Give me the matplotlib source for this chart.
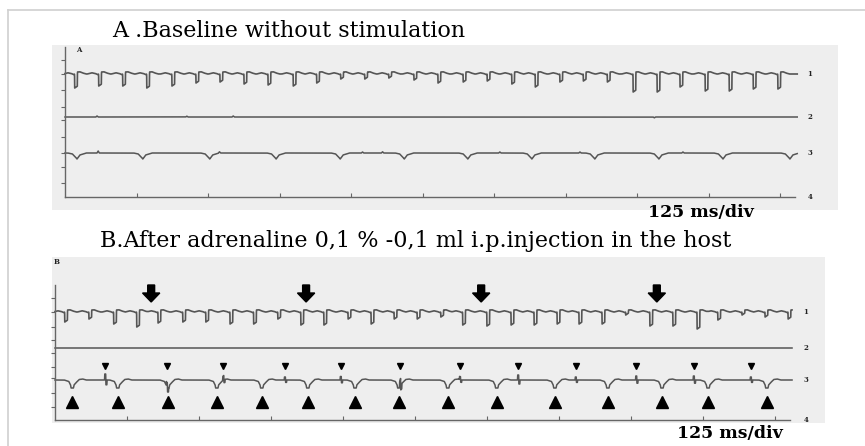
import numpy as np
import matplotlib
matplotlib.use("Agg")
import matplotlib.pyplot as plt
from matplotlib.lines import Line2D

# ---- data (times in ms, amplitudes in trace units) ----
A1_BEAT_T   = [17, 59, 101, 143, 187, 229, 271, 313, 355, 399, 440, 482, 524, 566, 610,
               652, 696, 738, 781, 822, 865, 906, 948, 993, 1035, 1075, 1119, 1161, 1203, 1246]
A1_BEAT_D   = [14, 12, 12, 14, 12, 9, 8, 10, 11, 12, 9, 5, 5, 4, 6,
               9, 8, 7, 10, 13, 8, 7, 8, 18, 18, 13, 17, 17, 15, 15]
A2_BLIP_T   = [56, 213, 294, 1030]
A2_BLIP_A   = [1.0, 0.8, 1.0, -0.8]
A3_DIP_T    = [21, 136, 253, 369, 481, 593, 704, 816, 926, 1038, 1150, 1267]
A3_BLIP_T   = [58, 270, 520, 555, 760, 900, 1080]
A3_BLIP_A   = [2.0, 1.2, 1.0, 1.2, 1.0, 1.0, 1.0]

B1_BEAT_T   = [17, 59, 102, 142, 179, 222, 262, 304, 345, 387, 427, 467, 509, 549, 589, 629,
               670, 708, 750, 792, 832, 872, 910, 950, 991, 1033, 1073, 1115, 1151, 1193, 1233, 1273]
B1_BEAT_D   = [10, 7, 12, 15, 11, 10, 10, 12, 12, 7, 13, 13, 7, 12, 7, 7,
               5, 13, 14, 13, 13, 12, 12, 12, 3, 14, 14, 17, 8, 3, 5, 7]
B_ARROW_T   = [167, 436, 740, 1045]
B3_DIP_T    = [30, 109, 196, 281, 359, 439, 521, 597, 682, 767, 868, 960, 1054, 1134, 1236]
B3_SPK_T    = [87, 194, 292, 399, 496, 599, 703, 804, 904, 1009, 1109, 1208]
B3_SPK_A    = [1.2, 1.0, 0.8, 0.6, 0.7, 1.3, 0.6, 1.0, 0.6, 0.8, 0.8, 0.6]

TICK_MS     = [125, 250, 375, 500, 625, 750, 875, 1000, 1125, 1250]
CH_LABELS   = ["1", "2", "3", "4"]

# beat shapes (offset ms, relative amplitude)
WAVE_T  = [-20, -12, -6, -2, 0, 5, 9, 14, 20]
WAVE_A  = [0, 1.2, 0.5, -0.5, 0, 2.0, 2.2, 1.0, 0]
SPIKE_T = [-0.3, 0, 4.5, 4.8]
SPIKE_A = [0, -1, -1, 0]
DIPA_T  = [-16, -8, -2, 0, 5, 16]
DIPA_A  = [0, -1, -4.5, -6, -2, 0]
DIPB_T  = [-14, -6, -3, -2, 2, 3, 6, 12, 18, 24]
DIPB_A  = [0, -1.5, -5, -8, -8, -5, -3, 0.5, 1.0, 0]
SPKB_T  = [-1, -0.6, 1.0, 1.4, 3.0, 3.4]
SPKB_A  = [0, 5, 5, -4, -4, 0]
BLIP_T  = [-2, 0, 2]
BLIP_A  = [0, 1, 0]

TRACE_COL = "#555555"
BOX_COL   = "#eeeeee"
SERIF     = ["DejaVu Serif"]


def build_trace(t, events):
    y = np.zeros_like(t)
    for times, amps, shp_t, shp_a in events:
        for te, a in zip(times, amps):
            y += a * np.interp(t - te, shp_t, shp_a, left=0, right=0)
    return y


def style_axes(ax, x_end, ch_y, top, yticks):
    ax.set_facecolor(BOX_COL)
    for s in ["top", "right"]:
        ax.spines[s].set_visible(False)
    ax.spines["left"].set_position(("data", 0))
    ax.spines["left"].set_bounds(ch_y[3], top)
    ax.spines["bottom"].set_position(("data", ch_y[3]))
    ax.spines["bottom"].set_bounds(0, x_end)
    for s in ["left", "bottom"]:
        ax.spines[s].set_color("#666666")
        ax.spines[s].set_linewidth(1.0)
    ax.set_xticks(TICK_MS)
    ax.set_yticks(yticks)
    ax.tick_params(axis="x", direction="in", length=3, color="#666666", labelbottom=False)
    ax.tick_params(axis="y", direction="out", length=3, color="#666666", labelleft=False)


fig = plt.figure(figsize=(8.65, 4.46), dpi=100)

# faint frame of the scanned page
fig.add_artist(Line2D([8/865, 1], [1 - 10/446, 1 - 10/446], color="#d0d0d0", lw=1.2))
fig.add_artist(Line2D([8/865, 8/865], [0, 1 - 10/446], color="#d0d0d0", lw=1.2))

# ---------------- panel A ----------------
axA = fig.add_axes([52/865, (446-210)/446, 786/865, 165/446])
chA = [0, -43, -79, -123]
axA.set_xlim(-22.7, 1351)
axA.set_ylim(-136, 29)
style_axes(axA, 1276, chA, 27, [14, 0, -16, -33, -46, -63, -79, -93, -109])

tA = np.arange(-5, 1280, 0.25)
y1 = build_trace(tA, [(A1_BEAT_T, [1]*len(A1_BEAT_T), WAVE_T, WAVE_A),
                      (A1_BEAT_T, A1_BEAT_D, SPIKE_T, SPIKE_A)])
y2 = build_trace(tA, [(A2_BLIP_T, A2_BLIP_A, BLIP_T, BLIP_A)])
y3 = build_trace(tA, [(A3_DIP_T, [1]*len(A3_DIP_T), DIPA_T, DIPA_A),
                      (A3_BLIP_T, A3_BLIP_A, BLIP_T, BLIP_A)])
m = tA >= 0
axA.plot(tA[m], y1[m] + chA[0], color=TRACE_COL, lw=1.2)
axA.plot(tA[m], y2[m] + chA[1], color=TRACE_COL, lw=1.1)
axA.plot(tA[m], y3[m] + chA[2], color=TRACE_COL, lw=1.1)
for lab, cy in zip(CH_LABELS, chA):
    axA.text(1302, cy, lab, fontsize=5, fontweight="bold", family=SERIF,
             ha="center", va="center", color="#222222")
axA.text(24, 24, "A", fontsize=5, fontweight="bold", family=SERIF,
         ha="center", va="center", color="#222222")

# ---------------- panel B ----------------
axB = fig.add_axes([52/865, (446-423)/446, 773/865, 166/446])
chB = [0, -36, -68, -108]
axB.set_xlim(-5.2, 1337)
axB.set_ylim(-111, 55)
style_axes(axB, 1276, chB, 27, [14, 0, -15, -28, -41, -55, -66, -81, -95])

tB = np.arange(-5, 1280, 0.25)
b1 = build_trace(tB, [(B1_BEAT_T, [1]*len(B1_BEAT_T), WAVE_T, WAVE_A),
                      (B1_BEAT_T, B1_BEAT_D, SPIKE_T, SPIKE_A)])
b3 = build_trace(tB, [(B3_DIP_T, [1]*len(B3_DIP_T), DIPB_T, DIPB_A),
                      (B3_SPK_T, B3_SPK_A, SPKB_T, SPKB_A)])
m = tB >= 0
axB.plot(tB[m], b1[m] + chB[0], color=TRACE_COL, lw=1.2)
axB.plot(tB[m], np.zeros(m.sum()) + chB[1], color=TRACE_COL, lw=1.1)
axB.plot(tB[m], b3[m] + chB[2], color=TRACE_COL, lw=1.1)

axB.plot(B3_DIP_T, [chB[2] - 22]*len(B3_DIP_T), ls="none", marker="^",
         ms=9, color="black")
axB.plot(B3_SPK_T, [chB[2] + 14]*len(B3_SPK_T), ls="none", marker="v",
         ms=4, color="black")
for ta in B_ARROW_T:
    axB.arrow(ta, 27, 0, -17, width=12, head_width=30, head_length=9,
              length_includes_head=True, color="black")
for lab, cy in zip(CH_LABELS, chB):
    axB.text(1304, cy, lab, fontsize=5, fontweight="bold", family=SERIF,
             ha="center", va="center", color="#222222")
axB.text(3.5, 50, "B", fontsize=5, fontweight="bold", family=SERIF,
         ha="center", va="center", color="#222222")

# ---------------- texts ----------------
fig.text(112/865, 1 - 31/446, "A .Baseline without stimulation",
         family=SERIF, fontsize=16, va="center", ha="left")
fig.text(100/865, 1 - 241/446,
         "B.After adrenaline 0,1 % -0,1 ml i.p.injection in the host",
         family=SERIF, fontsize=16, va="center", ha="left")
fig.text(648/865, 1 - 212/446, "125 ms/div", family=SERIF, fontsize=12.5,
         fontweight="bold", va="center", ha="left")
fig.text(677/865, 1 - 433/446, "125 ms/div", family=SERIF, fontsize=12.5,
         fontweight="bold", va="center", ha="left")

fig.savefig("out.png", dpi=100)
